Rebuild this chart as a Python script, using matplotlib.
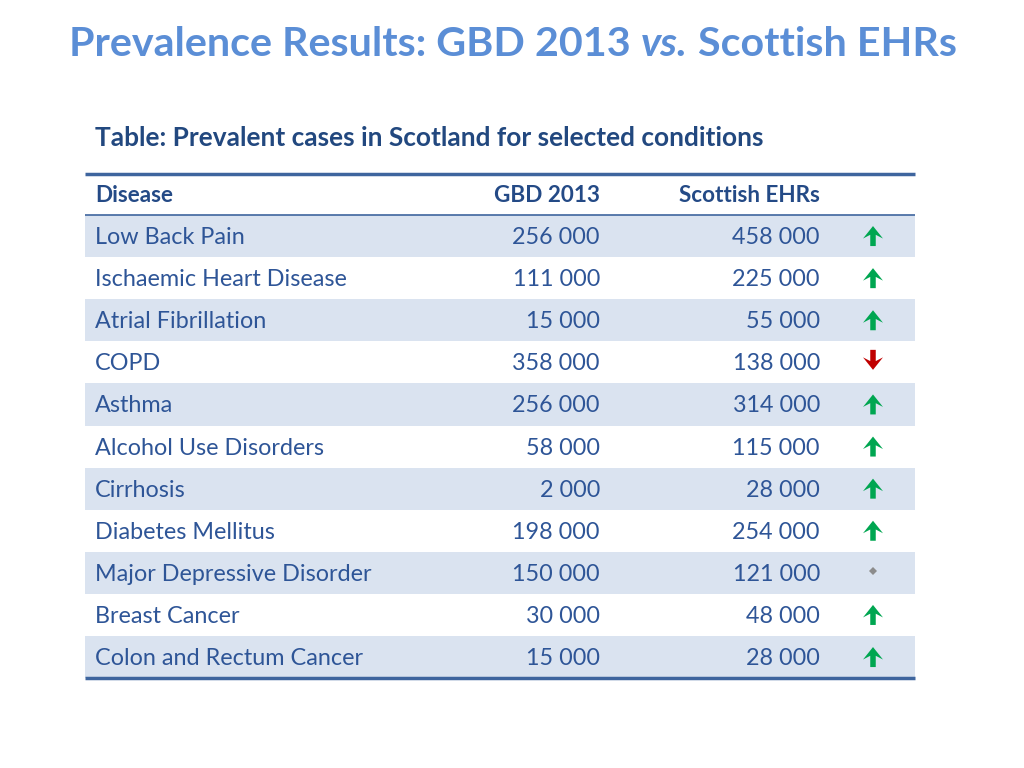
import matplotlib
matplotlib.use("Agg")
import matplotlib.pyplot as plt
from matplotlib.patches import Rectangle

plt.rcParams['font.family'] = ['Lato', 'DejaVu Sans']

# table content
diseases = [
    "Low Back Pain", "Ischaemic Heart Disease", "Atrial Fibrillation", "COPD",
    "Asthma", "Alcohol Use Disorders", "Cirrhosis", "Diabetes Mellitus",
    "Major Depressive Disorder", "Breast Cancer", "Colon and Rectum Cancer",
]
gbd_2013 = [256000, 111000, 15000, 358000, 256000, 58000, 2000, 198000, 150000, 30000, 15000]
scottish_ehrs = [458000, 225000, 55000, 138000, 314000, 115000, 28000, 254000, 121000, 48000, 28000]
trend = ["up", "up", "up", "down", "up", "up", "up", "up", "same", "up", "up"]
headers = ["Disease", "GBD 2013", "Scottish EHRs"]

TEXT = "#2E5597"
HEAD = "#244A86"
SHADE = "#DAE3F0"
RULE = "#3E659E"
TITLE = "#5B8ED6"


def fmt(v):
    return f"{v:,}".replace(",", " ")


fig = plt.figure(figsize=(10.24, 7.68), dpi=100)
ax = fig.add_axes([0, 0, 1, 1])
ax.set_xlim(0, 1024)
ax.set_ylim(768, 0)
ax.axis("off")

# title, with "vs." in italics
title_parts = [("Prevalence Results: GBD 2013 ", "normal"), ("vs.", "italic"), (" Scottish EHRs", "normal")]
t = ax.text(69, 45, title_parts[0][0], ha="left", va="center", fontsize=29.7,
            fontweight="bold", color=TITLE)
for part, style in title_parts[1:]:
    t = ax.annotate(part, xycoords=t, xy=(1, 0), va="bottom", ha="left", fontsize=29.7,
                    fontweight="bold", fontstyle=style, color=TITLE)

ax.text(95, 138, "Table: Prevalent cases in Scotland for selected conditions", ha="left",
        va="center", fontsize=18.9, fontweight="bold", color="#22487F")

left, right = 85, 915
top, head_bottom = 174, 215
row_h = 42.1
col_x = [95, 600, 820]
arrow_x = 873
fs = 16.8

for i in range(len(diseases)):
    y0 = head_bottom + i * row_h
    if i % 2 == 0:
        ax.add_patch(Rectangle((left, y0), right - left, row_h, color=SHADE, lw=0, zorder=0))
    yc = y0 + row_h / 2
    ty = yc + 1.5
    ax.text(col_x[0], ty, diseases[i], ha="left", va="center", fontsize=fs, color=TEXT)
    ax.text(col_x[1], ty, fmt(gbd_2013[i]), ha="right", va="center", fontsize=fs, color=TEXT)
    ax.text(col_x[2], ty, fmt(scottish_ehrs[i]), ha="right", va="center", fontsize=fs, color=TEXT)
    if trend[i] == "up":
        ax.arrow(arrow_x, yc + 10, 0, -7.5, width=5.5, head_width=20, head_length=12.5,
                 overhang=0.3, color="#00A651", lw=0)
    elif trend[i] == "down":
        ax.arrow(arrow_x, yc - 12.5, 0, 7.5, width=5.5, head_width=20, head_length=12.5,
                 overhang=0.3, color="#C00000", lw=0)
    else:
        ax.plot(arrow_x, yc - 2, marker="D", markersize=4, color="#8C8C8C", mew=0)

hy = (top + head_bottom) / 2 + 1.5
hfs = 16.2
ax.text(col_x[0], hy, headers[0], ha="left", va="center", fontsize=hfs, fontweight="bold", color=HEAD)
ax.text(col_x[1], hy, headers[1], ha="right", va="center", fontsize=hfs, fontweight="bold", color=HEAD)
ax.text(col_x[2], hy, headers[2], ha="right", va="center", fontsize=hfs, fontweight="bold", color=HEAD)

bottom = head_bottom + len(diseases) * row_h
ax.plot([left, right], [top, top], color=RULE, lw=2.5, solid_capstyle="butt")
ax.plot([left, right], [head_bottom, head_bottom], color=RULE, lw=1.2, solid_capstyle="butt")
ax.plot([left, right], [bottom, bottom], color=RULE, lw=2.5, solid_capstyle="butt")

fig.savefig("out.png", dpi=100)
